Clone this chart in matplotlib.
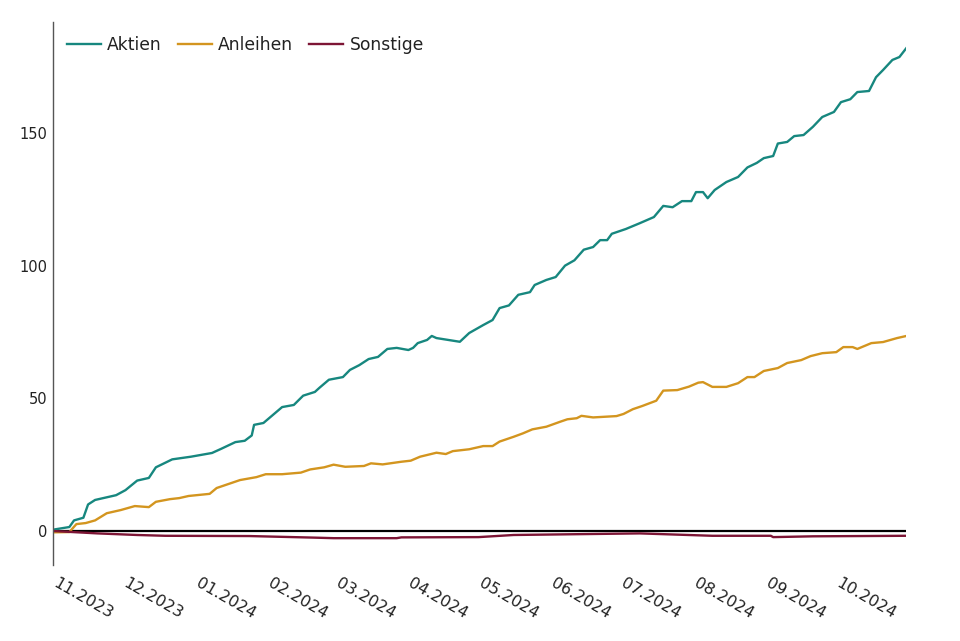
import matplotlib
matplotlib.use("Agg")
import matplotlib.pyplot as plt
import matplotlib.dates as mdates
import matplotlib.transforms as mtransforms
import pandas as pd

plt.rcParams['font.family'] = ['DejaVu Sans']

aktien_dates = ["2023-11-01", "2023-11-08", "2023-11-10", "2023-11-14", "2023-11-16", "2023-11-19",
                "2023-11-28", "2023-12-02", "2023-12-07", "2023-12-12", "2023-12-15", "2023-12-22",
                "2023-12-30", "2024-01-08", "2024-01-12", "2024-01-18", "2024-01-22", "2024-01-25",
                "2024-01-26", "2024-01-30", "2024-02-03", "2024-02-07", "2024-02-12", "2024-02-16",
                "2024-02-21", "2024-02-23", "2024-02-27", "2024-03-04", "2024-03-07", "2024-03-11",
                "2024-03-15", "2024-03-19", "2024-03-23", "2024-03-27", "2024-04-01", "2024-04-03",
                "2024-04-05", "2024-04-09", "2024-04-11", "2024-04-13", "2024-04-18", "2024-04-23",
                "2024-04-27", "2024-05-03", "2024-05-07", "2024-05-10", "2024-05-14", "2024-05-18",
                "2024-05-23", "2024-05-25", "2024-05-30", "2024-06-03", "2024-06-07", "2024-06-11",
                "2024-06-15", "2024-06-19", "2024-06-22", "2024-06-25", "2024-06-27", "2024-07-03",
                "2024-07-09", "2024-07-15", "2024-07-19", "2024-07-23", "2024-07-27", "2024-07-31",
                "2024-08-02", "2024-08-05", "2024-08-07", "2024-08-10", "2024-08-15", "2024-08-20",
                "2024-08-24", "2024-08-28", "2024-08-31", "2024-09-04", "2024-09-06", "2024-09-10",
                "2024-09-13", "2024-09-17", "2024-09-21", "2024-09-25", "2024-09-30", "2024-10-03",
                "2024-10-07", "2024-10-10", "2024-10-15", "2024-10-18", "2024-10-21", "2024-10-25",
                "2024-10-28", "2024-10-31"]
aktien_values = [0.5, 1.5, 4, 5, 10, 11.7,
                 13.5, 15.4, 19, 20, 24, 27,
                 28, 29.4, 31, 33.5, 34, 36,
                 40, 40.7, 43.7, 46.7, 47.5, 51,
                 52.4, 54, 57, 58, 60.7, 62.5,
                 64.8, 65.6, 68.6, 69, 68.2, 69,
                 70.8, 72, 73.5, 72.7, 72, 71.3,
                 74.6, 77.6, 79.5, 84, 85, 89,
                 90, 92.7, 94.6, 95.7, 100, 102,
                 106, 107, 109.6, 109.6, 112, 113.8,
                 116, 118.3, 122.5, 122, 124.3, 124.3,
                 127.7, 127.7, 125.4, 128.5, 131.5, 133.4,
                 137, 138.7, 140.5, 141.3, 146, 146.6,
                 148.8, 149.2, 152.3, 156, 157.9, 161.6,
                 162.7, 165.4, 165.8, 171, 173.7, 177.5,
                 178.6, 182]

anleihen_dates = ["2023-11-01", "2023-11-08", "2023-11-11", "2023-11-15", "2023-11-19", "2023-11-24",
                  "2023-11-30", "2023-12-06", "2023-12-12", "2023-12-15", "2023-12-21", "2023-12-25",
                  "2023-12-29", "2024-01-07", "2024-01-10", "2024-01-16", "2024-01-20", "2024-01-27",
                  "2024-01-31", "2024-02-07", "2024-02-15", "2024-02-19", "2024-02-25", "2024-02-29",
                  "2024-03-05", "2024-03-13", "2024-03-16", "2024-03-21", "2024-03-29", "2024-04-02",
                  "2024-04-06", "2024-04-13", "2024-04-17", "2024-04-20", "2024-04-27", "2024-05-03",
                  "2024-05-07", "2024-05-10", "2024-05-16", "2024-05-20", "2024-05-24", "2024-05-30",
                  "2024-06-05", "2024-06-08", "2024-06-12", "2024-06-14", "2024-06-19", "2024-06-29",
                  "2024-07-02", "2024-07-06", "2024-07-10", "2024-07-16", "2024-07-19", "2024-07-25",
                  "2024-07-30", "2024-08-03", "2024-08-05", "2024-08-09", "2024-08-15", "2024-08-20",
                  "2024-08-24", "2024-08-27", "2024-08-31", "2024-09-06", "2024-09-10", "2024-09-16",
                  "2024-09-20", "2024-09-25", "2024-10-01", "2024-10-04", "2024-10-08", "2024-10-10",
                  "2024-10-16", "2024-10-21", "2024-10-27", "2024-10-31"]
anleihen_values = [-0.5, -0.4, 2.6, 3, 4, 6.7,
                   7.9, 9.4, 9, 11, 12, 12.4,
                   13.2, 14, 16.2, 18, 19.2, 20.3,
                   21.4, 21.4, 22, 23.2, 24, 25,
                   24.2, 24.5, 25.5, 25.1, 26.1, 26.5,
                   28, 29.5, 29, 30.1, 30.8, 32,
                   32, 33.7, 35.5, 36.8, 38.3, 39.3,
                   41.2, 42.1, 42.5, 43.4, 42.8, 43.3,
                   44.1, 45.9, 47.1, 49.1, 52.9, 53.1,
                   54.4, 55.9, 56.1, 54.3, 54.3, 55.7,
                   58, 58, 60.3, 61.4, 63.3, 64.4,
                   65.9, 67, 67.4, 69.3, 69.3, 68.6,
                   70.8, 71.2, 72.7, 73.5]

sonstige_dates = ["2023-11-01", "2023-11-20", "2023-12-07", "2023-12-19", "2024-01-24", "2024-02-21",
                  "2024-02-29", "2024-03-27", "2024-03-29", "2024-05-01", "2024-05-16", "2024-07-09",
                  "2024-08-09", "2024-09-03", "2024-09-04", "2024-09-21", "2024-10-31"]
sonstige_values = [0, -0.9, -1.5, -1.8, -1.9, -2.5,
                   -2.7, -2.7, -2.4, -2.3, -1.5, -0.9,
                   -1.8, -1.8, -2.3, -2.0, -1.8]

series_names = ["Aktien", "Anleihen", "Sonstige"]
series_colors = ["#17877f", "#d3951f", "#7d1535"]
y_ticks = [0, 50, 100, 150]

fig = plt.figure(figsize=(9.6, 6.41), dpi=100)
ax = fig.add_axes([0.0552, 0.1186, 0.889, 0.8471])

ax.axhline(0, color="black", lw=1.6, zorder=1)
for name, d, v, c in zip(series_names,
                         [aktien_dates, anleihen_dates, sonstige_dates],
                         [aktien_values, anleihen_values, sonstige_values],
                         series_colors):
    ax.plot(pd.to_datetime(d), v, color=c, lw=1.7, label=name, zorder=2,
            solid_joinstyle="round")

ax.set_xlim(pd.Timestamp("2023-11-01"), pd.Timestamp("2024-10-31"))
ax.set_ylim(-12.8, 191.8)
ax.set_yticks(y_ticks)
ax.xaxis.set_major_locator(mdates.MonthLocator())
ax.xaxis.set_major_formatter(mdates.DateFormatter("%m.%Y"))

for s in ["top", "right", "bottom"]:
    ax.spines[s].set_visible(False)
ax.spines["left"].set_color("#555555")
ax.spines["left"].set_linewidth(1.0)

ax.tick_params(axis="both", length=0, colors="#222222")
ax.tick_params(axis="y", pad=4, labelsize=10.5)
ax.tick_params(axis="x", pad=8, labelsize=11.5)
offset = mtransforms.ScaledTranslation(5 / 100, 0, fig.dpi_scale_trans)
for lab in ax.get_xticklabels():
    lab.set_rotation(-30)
    lab.set_ha("left")
    lab.set_va("top")
    lab.set_rotation_mode("anchor")
    lab.set_transform(lab.get_transform() + offset)

leg = ax.legend(loc="upper left", ncol=3, frameon=False, fontsize=12.3,
                handlelength=2.0, handletextpad=0.35, columnspacing=0.95,
                bbox_to_anchor=(0.0, 1.0), borderaxespad=0.4)
for t in leg.get_texts():
    t.set_color("#222222")

fig.savefig("out.png", dpi=100, facecolor="white")
